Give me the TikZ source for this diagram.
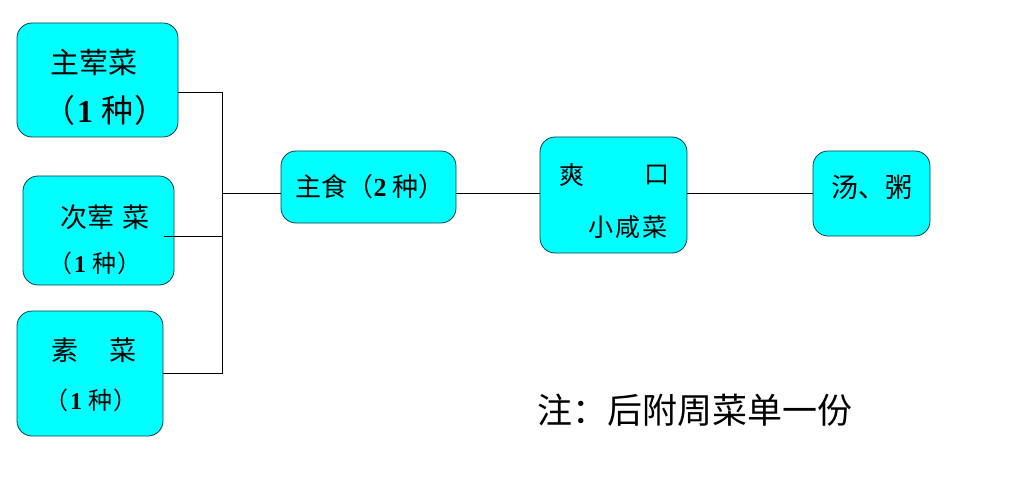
\documentclass[tikz,border=0pt]{standalone}
\usepackage{fontspec}
\setmainfont{Liberation Serif}
\newfontfamily\cjk{Noto Sans CJK SC}
\usetikzlibrary{positioning}
\definecolor{dishfill}{RGB}{0,255,255}
\definecolor{dishline}{RGB}{20,60,70}

\tikzset{
  dish/.style={draw=dishline, fill=dishfill, rounded corners=15pt, line width=0.8pt, inner sep=0pt},
  word/.style={inner sep=0pt, font=\cjk\fontsize{#1}{#1}\selectfont},
  link/.style={line width=0.8pt},
}

\begin{document}
\begin{tikzpicture}[x=1pt,y=-1pt]
            \useasboundingbox (0,0) rectangle (1016,489);

            % Dish boxes
            \node[dish, minimum width=161pt, minimum height=114pt] (meat) at (97.5,80) {};
            \node[dish, minimum width=151pt, minimum height=109pt] (side) at (98.5,230.5) {};
            \node[dish, minimum width=146pt, minimum height=125pt] (veg) at (90,373.5) {};
            \node[dish, minimum width=175pt, minimum height=72pt] (staple) at (368.5,187) {};
            \node[dish, minimum width=147pt, minimum height=116pt] (pickle) at (613.5,195) {};
            \node[dish, minimum width=117pt, minimum height=85pt] (soup) at (871.5,193.5) {};

            % Texts
            \node[word=29] (meatA) at (94,62) {主荤菜};
            \node[word=32] (meatB) at (105,110) {（\hspace{2pt}{\normalfont\bfseries 1}\hspace{8pt}种\hspace{2pt}）};
            \node[word=27] (sideA) at (105,217) {次荤\hspace{8pt}菜};
            \node[word=24] (sideB) at (95,263) {（\hspace{2pt}{\normalfont\bfseries 1}\hspace{6pt}种\hspace{2pt}）};
            \node[word=27] (vegA) at (94,350) {素\hspace{32pt}菜};
            \node[word=24] (vegB) at (91,400) {（\hspace{2pt}{\normalfont\bfseries 1}\hspace{6pt}种\hspace{2pt}）};
            \node[word=26] (stapleA) at (370,187) {主食（{\normalfont\bfseries 2}\hspace{6pt}种）};
            \node[word=25] (pickleA) at (572,175) {爽};
            \node[word=25] (pickleB) at (657,175) {口};
            \node[word=25] (pickleC) at (628,227) {小\hspace{2pt}咸\hspace{2pt}菜};
            \node[word=27] (soupA) at (872,187) {汤、粥};
            \node[word=35] (note) at (695,410) {注：后附周菜单一份};

            % Connectors
            \coordinate (top) at (222,92);
            \coordinate (hub) at (222,193);
            \coordinate (bot) at (222,373);
            \draw[link] ([yshift=-12pt]meat.east) -- (top) -- (bot) -- (bot -| veg.east);
            \draw[link] ([xshift=-10pt,yshift=-5.5pt]side.east) -- ([yshift=-5.5pt]side.east -| top);
            \draw[link] (hub) -- (hub -| staple.west);
            \draw[link] (hub -| staple.east) -- (hub -| pickle.west);
            \draw[link] (hub -| pickle.east) -- (hub -| soup.west);
        \end{tikzpicture}
\end{document}
